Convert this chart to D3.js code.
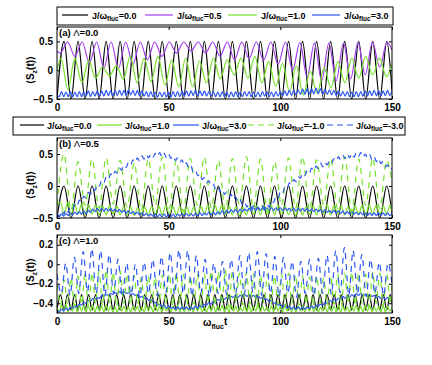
<!DOCTYPE html>
<html>
<head>
<meta charset="utf-8">
<script src="https://cdn.jsdelivr.net/npm/d3@7"></script>
<style>
body { margin: 0; background: #fff; }
text { font-family: "Liberation Sans", Arial, sans-serif; font-weight: bold; }
</style>
</head>
<body>
<svg id="chart" width="432" height="365"></svg>
<script>
/* sample instants (time axis) */
var tA = d3.range(0, 150, Math.PI).concat([150]);          // half periods, omega ~ 1
var tB = d3.range(0, 150, Math.PI / 2).concat([150]);      // half periods, omega ~ 2
var tC = d3.range(0, 151, 1);                              // fast wiggle grid
var tD = d3.range(0, 150, 1.95).concat([150]);             // J=-3, Lambda=1
var tP = [0].concat(d3.range(1.5, 150, 3.25), [150]);      // J=0.5, Lambda=0
var tG = [0].concat(d3.range(1.8, 150, 3.1), [150]);       // J=1, Lambda=0

/* tick labels */
var xTicks = [0, 50, 100, 150];
var yTicksAB = [-0.5, 0, 0.5];
var yTicksC = [-0.4, -0.2, 0, 0.2];

/* legend labels */
var legendA = ["0.0", "0.5", "1.0", "3.0"];
var legendB = ["0.0", "1.0", "3.0", "-1.0", "-3.0"];

/* (a) Lambda = 0.0 */
var sA0 = [-0.5,0.5,-0.5,0.5,-0.5,0.5,-0.5,0.5,-0.5,0.5,
  -0.5,0.5,-0.5,0.5,-0.5,0.5,-0.5,0.5,-0.5,0.5,
  -0.5,0.5,-0.5,0.5,-0.5,0.5,-0.5,0.5,-0.5,0.5,
  -0.5,0.5,-0.5,0.5,-0.5,0.5,-0.5,0.5,-0.5,0.5,
  -0.5,0.5,-0.5,0.5,-0.5,0.5,-0.5,0.5,-0.35];
var sA05 = [0.33,0.3,0.49,0.24,0.49,0.13,0.49,0.04,0.49,0.03,
  0.49,0.1,0.49,0.18,0.49,0.24,0.49,0.3,0.49,0.33,
  0.49,0.3,0.49,0.24,0.49,0.18,0.49,0.2,0.49,0.17,
  0.49,0.1,0.49,0.0,0.48,-0.12,0.47,-0.18,0.47,-0.18,
  0.47,-0.15,0.48,-0.08,0.49,0.05,0.49,0.35];
var sA1 = [0.0,0.2,-0.34,0.21,-0.22,0.17,-0.14,0.06,-0.1,0.08,
  -0.16,0.24,-0.22,0.21,-0.2,0.24,-0.26,0.18,-0.29,0.21,
  -0.29,0.16,-0.22,0.21,-0.15,0.18,-0.08,0.21,-0.14,0.24,
  -0.22,0.15,-0.28,0.12,-0.37,0.07,-0.43,-0.02,-0.4,0.04,
  -0.31,0.15,-0.22,0.21,-0.14,0.24,-0.08,0.21,-0.11,0.1];
var sA3 = [-0.43,-0.46,-0.37,-0.46,-0.38,-0.46,-0.37,-0.47,-0.38,-0.46,
  -0.37,-0.46,-0.37,-0.45,-0.36,-0.46,-0.37,-0.45,-0.36,-0.45,
  -0.36,-0.45,-0.35,-0.44,-0.36,-0.45,-0.35,-0.44,-0.35,-0.44,
  -0.35,-0.44,-0.34,-0.43,-0.35,-0.44,-0.35,-0.45,-0.36,-0.45,
  -0.37,-0.46,-0.37,-0.46,-0.38,-0.47,-0.38,-0.46,-0.38,-0.47,
  -0.38,-0.47,-0.37,-0.46,-0.37,-0.46,-0.36,-0.45,-0.36,-0.45,
  -0.36,-0.44,-0.35,-0.45,-0.36,-0.44,-0.36,-0.45,-0.37,-0.45,
  -0.37,-0.46,-0.38,-0.46,-0.37,-0.46,-0.38,-0.47,-0.38,-0.46,
  -0.37,-0.46,-0.38,-0.46,-0.37,-0.45,-0.37,-0.46,-0.38,-0.46,
  -0.38,-0.46,-0.37,-0.45,-0.37,-0.46,-0.38,-0.46,-0.37,-0.45,
  -0.37,-0.45,-0.36,-0.44,-0.35,-0.44,-0.35,-0.43,-0.34,-0.42,
  -0.33,-0.42,-0.32,-0.41,-0.32,-0.41,-0.31,-0.41,-0.32,-0.42,
  -0.33,-0.42,-0.34,-0.43,-0.35,-0.44,-0.36,-0.45,-0.37,-0.45,
  -0.37,-0.46,-0.38,-0.46,-0.37,-0.46,-0.37,-0.45,-0.36,-0.45,
  -0.36,-0.44,-0.35,-0.44,-0.36,-0.45,-0.36,-0.44,-0.35,-0.44,
  -0.36];

/* (b) Lambda = 0.5 */
var sB0 = [-0.5,0,-0.5,0,-0.5,0,-0.5,0,-0.5,0,
  -0.5,0,-0.5,0,-0.5,0,-0.5,0,-0.5,0,
  -0.5,0,-0.5,0,-0.5,0,-0.5,0,-0.5,0,
  -0.5,0,-0.5,0,-0.5,0,-0.5,0,-0.5,0,
  -0.5,0,-0.5,0,-0.5,0,-0.5,0,-0.43];
var sB1 = [-0.3,-0.25,-0.44,-0.26,-0.45,-0.27,-0.44,-0.28,-0.45,-0.29,
  -0.44,-0.3,-0.45,-0.31,-0.45,-0.3,-0.44,-0.31,-0.45,-0.32,
  -0.45,-0.33,-0.46,-0.34,-0.45,-0.33,-0.45,-0.32,-0.44,-0.31,
  -0.45,-0.3,-0.44,-0.31,-0.45,-0.32,-0.45,-0.33,-0.46,-0.32,
  -0.45,-0.31,-0.44,-0.3,-0.45,-0.29,-0.44,-0.3,-0.45,-0.31,
  -0.45,-0.32,-0.46,-0.33,-0.45,-0.32,-0.44,-0.31,-0.45,-0.3,
  -0.44,-0.29,-0.45,-0.3,-0.44,-0.31,-0.45,-0.32,-0.46,-0.33,
  -0.45,-0.32,-0.44,-0.31,-0.45,-0.3,-0.44,-0.29,-0.45,-0.3,
  -0.44,-0.31,-0.45,-0.32,-0.45,-0.31,-0.44,-0.3,-0.45,-0.29,
  -0.44,-0.3,-0.45,-0.31,-0.44,-0.3,-0.4];
var sB3 = [-0.47,-0.48,-0.44,-0.47,-0.43,-0.46,-0.42,-0.45,-0.41,-0.44,
  -0.4,-0.44,-0.39,-0.43,-0.38,-0.41,-0.36,-0.4,-0.35,-0.39,
  -0.35,-0.39,-0.35,-0.39,-0.35,-0.39,-0.36,-0.4,-0.37,-0.41,
  -0.38,-0.42,-0.39,-0.43,-0.4,-0.44,-0.41,-0.45,-0.42,-0.46,
  -0.43,-0.47,-0.44,-0.47,-0.44,-0.48,-0.44,-0.48,-0.44,-0.48,
  -0.44,-0.48,-0.44,-0.48,-0.44,-0.47,-0.43,-0.47,-0.43,-0.47,
  -0.43,-0.47,-0.43,-0.46,-0.42,-0.46,-0.42,-0.45,-0.41,-0.45,
  -0.41,-0.45,-0.4,-0.44,-0.39,-0.43,-0.38,-0.42,-0.37,-0.41,
  -0.37,-0.41,-0.36,-0.4,-0.36,-0.39,-0.35,-0.39,-0.34,-0.38,
  -0.34,-0.38,-0.34,-0.38,-0.34,-0.38,-0.34,-0.38,-0.34,-0.38,
  -0.34,-0.38,-0.34,-0.38,-0.35,-0.39,-0.35,-0.39,-0.35,-0.39,
  -0.35,-0.39,-0.35,-0.39,-0.36,-0.4,-0.36,-0.4,-0.37,-0.41,
  -0.37,-0.41,-0.38,-0.42,-0.38,-0.42,-0.39,-0.43,-0.39,-0.44,
  -0.4,-0.44,-0.4,-0.44,-0.41,-0.45,-0.41,-0.45,-0.42,-0.46,
  -0.42,-0.46,-0.42,-0.46,-0.42,-0.46,-0.42,-0.46,-0.42,-0.46,
  -0.44];
var sBm1 = [-0.3,0.5,-0.38,0.38,-0.3,0.42,-0.35,0.44,-0.28,0.4,
  -0.33,0.36,-0.38,0.42,-0.3,0.45,-0.35,0.4,-0.4,0.43,
  -0.3,0.45,-0.34,0.4,-0.38,0.43,-0.3,0.46,-0.35,0.42,
  -0.4,0.38,-0.3,0.44,-0.35,0.46,-0.38,0.41,-0.3,0.43,
  -0.35,0.46,-0.4,0.42,-0.3,0.44,-0.35,0.4,0.05];
var sBm3 = [-0.42,-0.47,-0.39,-0.44,-0.36,-0.41,-0.32,-0.36,-0.27,-0.31,
  -0.22,-0.25,-0.16,-0.19,-0.1,-0.13,-0.04,-0.07,0.03,0.0,
  0.09,0.05,0.14,0.1,0.19,0.15,0.23,0.2,0.28,0.25,
  0.33,0.29,0.37,0.33,0.41,0.37,0.44,0.39,0.47,0.42,
  0.49,0.44,0.5,0.45,0.51,0.46,0.52,0.45,0.51,0.44,
  0.5,0.43,0.47,0.4,0.44,0.37,0.41,0.32,0.36,0.27,
  0.31,0.22,0.25,0.16,0.19,0.1,0.13,0.05,0.08,0.0,
  0.03,-0.05,-0.01,-0.09,-0.05,-0.13,-0.09,-0.17,-0.13,-0.21,
  -0.17,-0.25,-0.21,-0.29,-0.25,-0.33,-0.28,-0.35,-0.31,-0.38,
  -0.33,-0.38,-0.31,-0.35,-0.28,-0.33,-0.23,-0.26,-0.16,-0.19,
  -0.09,-0.12,-0.02,-0.05,0.05,0.02,0.1,0.07,0.15,0.12,
  0.2,0.16,0.24,0.2,0.28,0.24,0.31,0.27,0.36,0.3,
  0.37,0.33,0.4,0.36,0.43,0.39,0.46,0.41,0.48,0.43,
  0.5,0.44,0.51,0.45,0.52,0.46,0.52,0.45,0.5,0.44,
  0.49,0.41,0.46,0.38,0.43,0.35,0.38,0.3,0.33,0.25,
  0.28];

/* (c) Lambda = 1.0 */
var sC0 = [-0.47,-0.31,-0.47,-0.31,-0.47,-0.31,-0.47,-0.31,-0.47,-0.31,
  -0.47,-0.31,-0.47,-0.31,-0.47,-0.31,-0.47,-0.31,-0.47,-0.31,
  -0.47,-0.31,-0.47,-0.31,-0.47,-0.31,-0.47,-0.31,-0.47,-0.31,
  -0.47,-0.31,-0.47,-0.31,-0.47,-0.31,-0.47,-0.31,-0.47,-0.31,
  -0.47,-0.31,-0.47,-0.31,-0.47,-0.31,-0.47,-0.31,-0.47,-0.31,
  -0.47,-0.31,-0.47,-0.31,-0.47,-0.31,-0.47,-0.31,-0.47,-0.31,
  -0.47,-0.31,-0.47,-0.31,-0.47,-0.31,-0.47,-0.31,-0.47,-0.31,
  -0.47,-0.31,-0.47,-0.31,-0.47,-0.31,-0.47,-0.31,-0.47,-0.31,
  -0.47,-0.31,-0.47,-0.31,-0.47,-0.31,-0.47,-0.31,-0.47,-0.31,
  -0.47,-0.31,-0.47,-0.31,-0.47,-0.31,-0.4];
var sC1 = [-0.44,-0.49,-0.42,-0.48,-0.41,-0.49,-0.42,-0.48,-0.41,-0.49,
  -0.42,-0.48,-0.42,-0.49,-0.43,-0.48,-0.42,-0.49,-0.43,-0.48,
  -0.43,-0.49,-0.42,-0.48,-0.43,-0.49,-0.44,-0.49,-0.43,-0.48,
  -0.43,-0.49,-0.44,-0.49,-0.43,-0.48,-0.43,-0.49,-0.44,-0.49,
  -0.43,-0.48,-0.43,-0.49,-0.42,-0.48,-0.43,-0.49,-0.42,-0.48,
  -0.43,-0.49,-0.43,-0.48,-0.42,-0.49,-0.43,-0.49,-0.44,-0.48,
  -0.43,-0.49,-0.42,-0.48,-0.43,-0.49,-0.44,-0.49,-0.43,-0.48,
  -0.42,-0.49,-0.43,-0.48,-0.42,-0.49,-0.43,-0.49,-0.42,-0.48,
  -0.43,-0.49,-0.44,-0.48,-0.43,-0.49,-0.42,-0.49,-0.43,-0.48,
  -0.42,-0.49,-0.43,-0.48,-0.44,-0.49,-0.43,-0.49,-0.42,-0.48,
  -0.43,-0.49,-0.42,-0.48,-0.43,-0.49,-0.44,-0.49,-0.43,-0.48,
  -0.42,-0.49,-0.43,-0.48,-0.42,-0.49,-0.43,-0.49,-0.44,-0.48,
  -0.43,-0.49,-0.42,-0.48,-0.43,-0.49,-0.42,-0.49,-0.43,-0.48,
  -0.44,-0.49,-0.43,-0.48,-0.42,-0.49,-0.43,-0.49,-0.42,-0.48,
  -0.43,-0.49,-0.44,-0.48,-0.43,-0.49,-0.42,-0.49,-0.43,-0.48,
  -0.44];
var sC3 = [-0.47,-0.49,-0.46,-0.48,-0.45,-0.47,-0.44,-0.45,-0.43,-0.44,
  -0.41,-0.42,-0.39,-0.4,-0.37,-0.38,-0.35,-0.36,-0.34,-0.35,
  -0.32,-0.33,-0.31,-0.32,-0.3,-0.31,-0.29,-0.3,-0.28,-0.3,
  -0.28,-0.3,-0.29,-0.31,-0.3,-0.32,-0.31,-0.34,-0.33,-0.35,
  -0.34,-0.37,-0.36,-0.39,-0.39,-0.42,-0.41,-0.43,-0.42,-0.45,
  -0.43,-0.45,-0.44,-0.46,-0.44,-0.46,-0.44,-0.46,-0.44,-0.46,
  -0.44,-0.46,-0.43,-0.45,-0.42,-0.44,-0.41,-0.42,-0.39,-0.41,
  -0.38,-0.39,-0.36,-0.37,-0.35,-0.36,-0.34,-0.35,-0.33,-0.34,
  -0.32,-0.34,-0.32,-0.33,-0.31,-0.33,-0.31,-0.33,-0.32,-0.34,
  -0.32,-0.35,-0.34,-0.36,-0.36,-0.38,-0.37,-0.4,-0.4,-0.42,
  -0.41,-0.44,-0.42,-0.45,-0.43,-0.46,-0.44,-0.46,-0.44,-0.46,
  -0.44,-0.46,-0.44,-0.45,-0.43,-0.45,-0.42,-0.43,-0.41,-0.42,
  -0.39,-0.4,-0.37,-0.38,-0.36,-0.37,-0.35,-0.36,-0.33,-0.35,
  -0.32,-0.34,-0.31,-0.33,-0.3,-0.32,-0.3,-0.32,-0.31,-0.33,
  -0.31,-0.33,-0.32,-0.34,-0.33,-0.35,-0.34,-0.36,-0.34,-0.37,
  -0.36];
var sCm1 = [-0.2,-0.42,-0.16,-0.4,-0.14,-0.43,-0.12,-0.41,-0.1,-0.44,
  -0.09,-0.4,-0.07,-0.42,-0.06,-0.41,-0.08,-0.43,-0.07,-0.4,
  -0.1,-0.42,-0.12,-0.41,-0.14,-0.44,-0.12,-0.4,-0.13,-0.42,
  -0.11,-0.41,-0.1,-0.43,-0.09,-0.4,-0.1,-0.42,-0.12,-0.41,
  -0.1,-0.43,-0.09,-0.4,-0.07,-0.42,-0.08,-0.41,-0.06,-0.44,
  -0.07,-0.4,-0.09,-0.42,-0.08,-0.41,-0.1,-0.43,-0.11,-0.4,
  -0.1,-0.42,-0.12,-0.41,-0.1,-0.44,-0.09,-0.4,-0.11,-0.42,
  -0.12,-0.41,-0.13,-0.43,-0.12,-0.4,-0.14,-0.42,-0.12,-0.41,
  -0.1,-0.43,-0.09,-0.4,-0.08,-0.42,-0.09,-0.41,-0.1,-0.44,
  -0.08,-0.4,-0.09,-0.42,-0.1,-0.41,-0.2];
var sCm3 = [-0.1,-0.3,0.01,-0.32,0.07,-0.3,0.13,-0.28,0.16,-0.3,
  0.14,-0.32,0.1,-0.3,0.05,-0.33,0.01,-0.31,0.0,-0.34,
  0.02,-0.3,0.05,-0.32,0.08,-0.29,0.12,-0.31,0.15,-0.3,
  0.14,-0.33,0.09,-0.3,0.05,-0.33,0.01,-0.3,0.03,-0.32,
  0.05,-0.3,0.09,-0.31,0.12,-0.29,0.13,-0.32,0.11,-0.3,
  0.08,-0.33,0.07,-0.3,0.03,-0.34,0.03,-0.3,0.05,-0.32,
  0.06,-0.3,0.09,-0.31,0.14,-0.29,0.17,-0.32,0.14,-0.3,
  0.1,-0.33,0.05,-0.3,0.02,-0.32,0.01,-0.2];

/* colours */
var cBlack = "#000000", cPurple = "#a43ff0", cGreen = "#74e228", cBlue = "#2b55f2";

var x = d3.scaleLinear().domain([0, 150]).range([57, 392]);
var svg = d3.select("#chart");

var panels = [
  { top: 27, bottom: 99, dom: [-0.5, 0.75], ticks: yTicksAB, name: "(a) ", lam: "0.0", labY: 35.5, ylabY: 70,
    series: [
      { t: tA, v: sA0, c: cBlack }, { t: tP, v: sA05, c: cPurple },
      { t: tG, v: sA1, c: cGreen }, { t: tC, v: sA3, c: cBlue } ] },
  { top: 138, bottom: 218, dom: [-0.5, 0.75], ticks: yTicksAB, name: "(b) ", lam: "0.5", labY: 147, ylabY: 185,
    series: [
      { t: tA, v: sB0, c: cBlack }, { t: tB, v: sB1, c: cGreen }, { t: tC, v: sB3, c: cBlue },
      { t: tA, v: sBm1, c: cGreen, dash: true }, { t: tC, v: sBm3, c: cBlue, dash: true } ] },
  { top: 235, bottom: 313, dom: [-0.5, 0.3], ticks: yTicksC, name: "(c) ", lam: "1.0", labY: 243.5, ylabY: 272,
    series: [
      { t: tB, v: sC0, c: cBlack }, { t: tC, v: sC1, c: cGreen }, { t: tC, v: sC3, c: cBlue },
      { t: tB, v: sCm1, c: cGreen, dash: true }, { t: tD, v: sCm3, c: cBlue, dash: true } ] }
];

var fmtY = function(d) { return d === 0 ? "0" : d3.format(".1f")(d); };

panels.forEach(function(p, k) {
  var y = d3.scaleLinear().domain(p.dom).range([p.bottom, p.top]);
  var g = svg.append("g");

  g.append("clipPath").attr("id", "clip" + k)
    .append("rect").attr("x", 57).attr("y", p.top)
    .attr("width", 335).attr("height", p.bottom - p.top);

  var line = d3.line()
    .x(function(d) { return x(d[0]); })
    .y(function(d) { return y(d[1]); })
    .curve(d3.curveMonotoneX);

  p.series.forEach(function(s) {
    var pts = s.t.map(function(t, i) { return [t, s.v[i]]; })
      .filter(function(d) { return d[1] !== undefined; });
    g.append("path")
      .attr("clip-path", "url(#clip" + k + ")")
      .attr("d", line(pts))
      .attr("fill", "none")
      .attr("stroke", s.c)
      .attr("stroke-width", 1.2)
      .attr("stroke-dasharray", s.dash ? "6,5" : null);
  });

  // axes, ticks pointing inward on all four sides
  var ax = [
    d3.axisBottom(x).tickValues(xTicks).tickSize(-3).tickPadding(5),
    d3.axisTop(x).tickValues(xTicks).tickSize(-3).tickFormat(""),
    d3.axisLeft(y).tickValues(p.ticks).tickSize(-3).tickPadding(4).tickFormat(fmtY),
    d3.axisRight(y).tickValues(p.ticks).tickSize(-3).tickFormat("")
  ];
  var pos = ["translate(0," + p.bottom + ")", "translate(0," + p.top + ")",
             "translate(57,0)", "translate(392,0)"];
  ax.forEach(function(a, i) {
    var ga = g.append("g").attr("transform", pos[i]).call(a);
    ga.select(".domain").remove();
    ga.selectAll("line").attr("stroke", "#000");
    ga.selectAll("text").attr("font-size", 10)
      .attr("font-family", "'Liberation Sans', Arial, sans-serif")
      .attr("font-weight", "bold").attr("fill", "#000");
  });

  g.append("rect")
    .attr("x", 57).attr("y", p.top)
    .attr("width", 335).attr("height", p.bottom - p.top)
    .attr("fill", "none").attr("stroke", "#000").attr("stroke-width", 1);

  // panel label
  var lab = g.append("text").attr("x", 59).attr("y", p.labY).attr("font-size", 9.5);
  lab.append("tspan").text(p.name);
  lab.append("tspan").attr("font-weight", "normal").text("\u039B");
  lab.append("tspan").text("=" + p.lam);

  // y axis label
  var yl = g.append("text")
    .attr("transform", "translate(34," + p.ylabY + ") rotate(-90)")
    .attr("text-anchor", "middle").attr("font-size", 10);
  yl.append("tspan").text("\u27E8S");
  yl.append("tspan").attr("font-size", 7).attr("dy", 2.5).text("z");
  yl.append("tspan").attr("dy", -2.5).text("(t)\u27E9");
});

/* x axis title */
var xl = svg.append("text").attr("x", 203).attr("y", 326).attr("font-size", 10);
xl.append("tspan").text("\u03C9");
xl.append("tspan").attr("font-size", 7).attr("dy", 3).text("fluc");
xl.append("tspan").attr("dy", -4).text("t");

/* legends */
function legendText(sel, xPos, yPos, lab) {
  var tx = sel.append("text").attr("x", xPos).attr("y", yPos).attr("font-size", 9);
  tx.append("tspan").text("J/\u03C9");
  tx.append("tspan").attr("font-size", 6.5).attr("dy", 2.5).text("fluc");
  tx.append("tspan").attr("dy", -2.5).text("=" + lab);
}

var legA = svg.append("g");
legA.append("rect").attr("x", 57).attr("y", 7).attr("width", 336).attr("height", 18)
  .attr("fill", "#fff").attr("stroke", "#000");
var legAcol = [cBlack, cPurple, cGreen, cBlue];
var legAline = [[62, 88], [145, 173], [228, 257], [312, 340]];
legendA.forEach(function(lab, i) {
  legA.append("line").attr("x1", legAline[i][0]).attr("x2", legAline[i][1])
    .attr("y1", 15).attr("y2", 15).attr("stroke", legAcol[i]).attr("stroke-width", 1.2);
  legendText(legA, legAline[i][1] + 4, 18.5, lab);
});

var legB = svg.append("g");
legB.append("rect").attr("x", 13).attr("y", 117).attr("width", 392).attr("height", 18)
  .attr("fill", "#fff").attr("stroke", "#000");
var legBcol = [cBlack, cGreen, cBlue, cGreen, cBlue];
var legBdash = [false, false, false, true, true];
var legBline = [[20, 44], [97, 122], [173, 199], [248, 274], [327, 353]];
legendB.forEach(function(lab, i) {
  legB.append("line").attr("x1", legBline[i][0]).attr("x2", legBline[i][1])
    .attr("y1", 125).attr("y2", 125).attr("stroke", legBcol[i]).attr("stroke-width", 1.2)
    .attr("stroke-dasharray", legBdash[i] ? "6,4" : null);
  legendText(legB, legBline[i][1] + 3, 128.5, lab);
});
</script>
</body>
</html>
